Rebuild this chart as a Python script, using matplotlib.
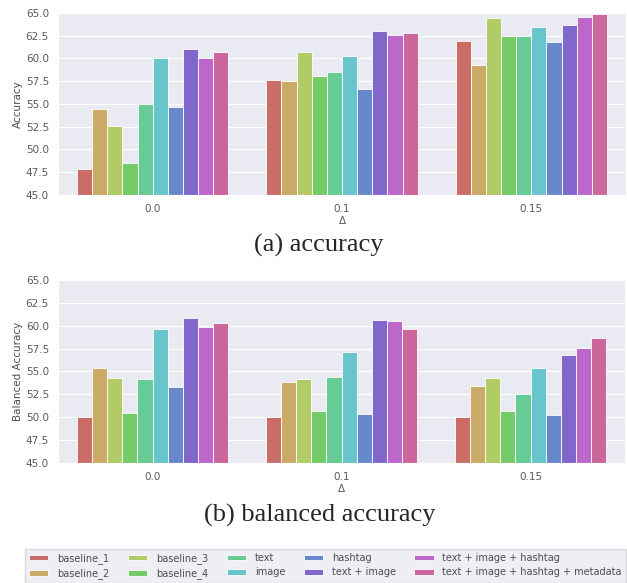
import matplotlib
matplotlib.use("Agg")
import matplotlib.pyplot as plt
import seaborn as sns
import numpy as np

# данные
deltas = ["0.0", "0.1", "0.15"]
models = ["baseline_1", "baseline_2", "baseline_3", "baseline_4", "text", "image",
          "hashtag", "text + image", "text + image + hashtag",
          "text + image + hashtag + metadata"]

# accuracy: по строке на модель, по столбцу на Δ
acc_b1 = [47.9, 57.6, 61.9]
acc_b2 = [54.4, 57.5, 59.3]
acc_b3 = [52.6, 60.7, 64.5]
acc_b4 = [48.5, 58.1, 62.5]
acc_text = [55.0, 58.5, 62.5]
acc_image = [60.0, 60.3, 63.5]
acc_hashtag = [54.7, 56.6, 61.8]
acc_ti = [61.0, 63.0, 63.7]
acc_tih = [60.0, 62.6, 64.6]
acc_all = [60.7, 62.8, 64.9]

bal_b1 = [50.0, 50.0, 50.0]
bal_b2 = [55.4, 53.8, 53.4]
bal_b3 = [54.3, 54.2, 54.3]
bal_b4 = [50.5, 50.7, 50.7]
bal_text = [54.2, 54.4, 52.5]
bal_image = [59.6, 57.1, 55.4]
bal_hashtag = [53.3, 50.4, 50.2]
bal_ti = [60.9, 60.6, 56.8]
bal_tih = [59.9, 60.5, 57.6]
bal_all = [60.3, 59.6, 58.7]

accuracy = [acc_b1, acc_b2, acc_b3, acc_b4, acc_text, acc_image,
            acc_hashtag, acc_ti, acc_tih, acc_all]
balanced = [bal_b1, bal_b2, bal_b3, bal_b4, bal_text, bal_image,
            bal_hashtag, bal_ti, bal_tih, bal_all]

sns.set_style("darkgrid")
plt.rcParams['font.family'] = ['DejaVu Sans']
colors = [sns.desaturate(c, 0.75) for c in sns.color_palette("hls", len(models))]

W, H = 627, 583
fig = plt.figure(figsize=(W / 100, H / 100), dpi=100)


def draw(rect, data, ylabel):
    ax = fig.add_axes(rect)
    x = np.arange(len(deltas))
    n = len(models)
    w = 0.8 / n
    handles = []
    for i, vals in enumerate(data):
        b = ax.bar(x - 0.4 + w * (i + 0.5), vals, width=w, color=colors[i],
                   edgecolor="white", linewidth=0.6, label=models[i])
        handles.append(b)
    ax.set_ylim(45, 65)
    ax.set_xlim(-0.5, 2.5)
    ticks = np.arange(45, 65.1, 2.5)
    ax.set_yticks(ticks)
    ax.set_yticklabels([f"{v:.1f}" for v in ticks])
    ax.set_xticks(x)
    ax.set_xticklabels(deltas)
    ax.grid(axis="x", visible=False)  # только горизонтальная сетка
    ax.tick_params(labelsize=7.5, colors=".35", pad=3)
    ax.set_ylabel(ylabel, fontsize=7.5, color=".3", labelpad=2)
    ax.set_xlabel("Δ", fontsize=7.5, color=".35", labelpad=1.5)
    return ax, handles


ax1, handles = draw([58 / W, 1 - 195 / H, 568 / W, 182 / H], accuracy, "Accuracy")
ax2, _ = draw([58 / W, 1 - 463 / H, 567 / W, 183 / H], balanced, "Balanced Accuracy")

fig.text(319 / W, 1 - 252 / H, "(a) accuracy", family="Liberation Serif",
         fontsize=19, ha="center", va="baseline")
fig.text(320 / W, 1 - 522 / H, "(b) balanced accuracy", family="Liberation Serif",
         fontsize=19, ha="center", va="baseline")

leg = fig.legend(handles=handles, labels=models, ncol=5, fontsize=7,
                 loc="upper left", bbox_to_anchor=(25 / W, 1 - 549 / H),
                 frameon=True, handlelength=2.0, handleheight=0.55,
                 handletextpad=0.9, columnspacing=1.9, borderaxespad=0,
                 labelspacing=0.45, fancybox=False)
leg.get_frame().set_facecolor("#EAEAF2")
leg.get_frame().set_edgecolor("#D0D0D8")
for t in leg.get_texts():
    t.set_color(".3")

fig.savefig("out.png", dpi=100)
